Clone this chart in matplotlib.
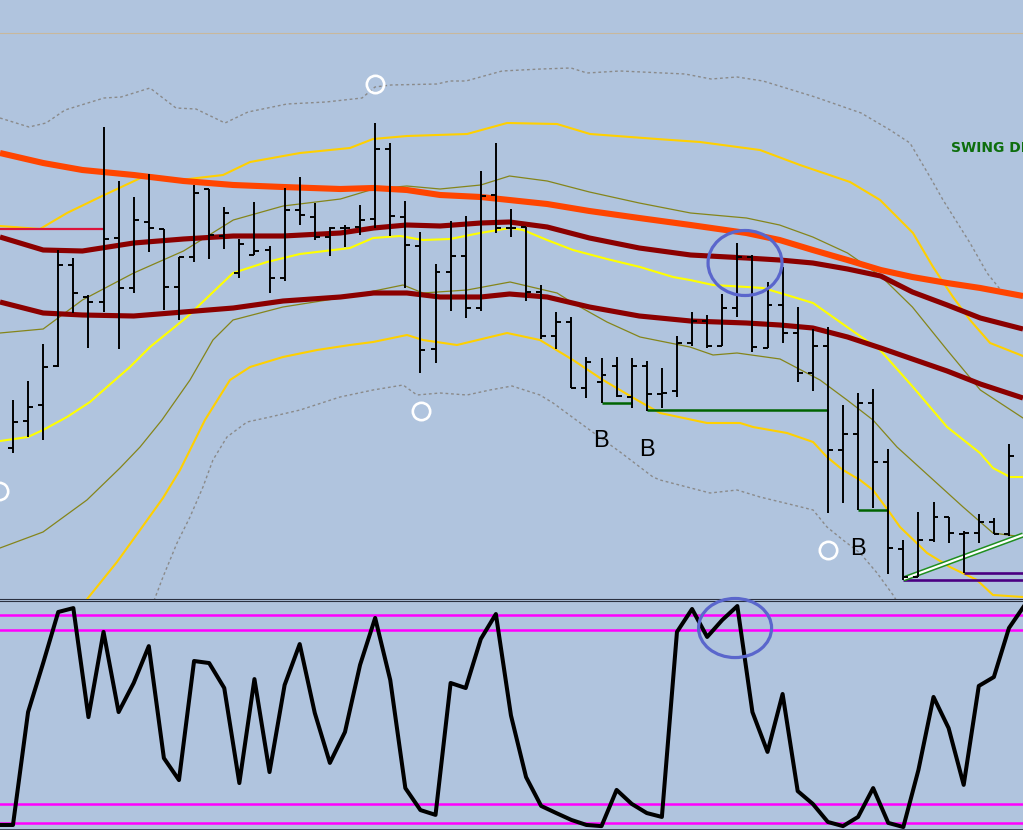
import numpy as np
import matplotlib
matplotlib.use("Agg")
import matplotlib.pyplot as plt
from matplotlib.patches import Ellipse

# ---------------- data (price units, arbitrary scale) ----------------
bar_high = [200, 219, 256, 350, 342, 305, 473, 419, 403, 426, 371, 343, 415, 411, 393, 361, 398,
            354, 412, 423, 397, 373, 375, 395, 477, 457, 399, 368, 336, 379, 384, 429, 457, 391,
            373, 315, 288, 283, 243, 242, 243, 242, 239, 232, 264, 288, 285, 306, 357, 345, 318,
            333, 293, 271, 273, 195, 207, 211, 151, 60, 88, 98, 83, 69, 86, 82, 156]
bar_low = [147, 163, 160, 233, 287, 252, 288, 251, 307, 348, 290, 280, 338, 341, 351, 322, 345,
           307, 319, 375, 360, 344, 353, 365, 372, 364, 312, 227, 237, 289, 282, 289, 367, 363,
           299, 261, 251, 212, 202, 197, 203, 192, 189, 192, 203, 254, 252, 254, 283, 248, 252,
           257, 218, 209, 87, 97, 90, 92, 26, 20, 23, 58, 57, 27, 57, 66, 64]
bar_open = [152, 179, 195, 234, 335, 303, 298, 362, 312, 378, 371, 313, 343, 411, 364, 327, 345,
            350, 322, 390, 383, 363, 372, 373, 381, 451, 383, 354, 251, 328, 344, 292, 405, 372,
            373, 308, 264, 278, 212, 218, 234, 203, 234, 206, 209, 257, 279, 254, 292, 343, 252,
            295, 267, 227, 254, 150, 166, 197, 138, 51, 23, 60, 83, 66, 67, 78, 66]
bar_close = [178, 193, 233, 335, 307, 298, 361, 312, 380, 372, 313, 343, 407, 365, 387, 356, 349,
             322, 390, 385, 363, 372, 372, 380, 451, 384, 355, 250, 328, 344, 292, 404, 372, 372,
             308, 264, 278, 212, 238, 225, 204, 234, 206, 207, 257, 279, 254, 292, 343, 253, 295,
             267, 227, 254, 150, 166, 197, 138, 52, 23, 60, 83, 67, 67, 78, 66, 144]

# shared sampling positions (bar index) for the smoothed averages
grid_x = [-0.86, 2.0, 4.6, 8.0, 11.3, 14.6, 17.9, 21.7, 23.9, 26.1, 28.3, 31.0, 32.9, 35.4,
          38.2, 41.5, 44.9, 48.6, 50.8, 53.0, 55.3, 57.5, 59.6, 61.9, 64.1, 66.93]
ma_orange = [447, 437, 430, 425, 419, 415, 413, 411, 412, 410, 405, 403, 400, 396, 389, 382,
             375, 367, 360, 350, 340, 330, 323, 317, 312, 304]
ma_upper = [363, 350, 349, 357, 361, 364, 364, 367, 372, 375, 374, 377, 378, 373, 362, 352,
            345, 342, 340, 337, 331, 324, 308, 295, 282, 271]
ma_lower = [298, 287, 285, 284, 288, 292, 299, 303, 307, 307, 303, 303, 306, 303, 293, 284,
            279, 277, 275, 272, 263, 252, 241, 229, 216, 202]
olive_upper = [267, 271, 300, 327, 349, 380, 394, 401, 411, 414, 411, 415, 424, 419, 408, 397,
               387, 382, 375, 363, 347, 324, 293, 250, 210, 182]

olive_lower_x = [-0.86, 1.99, 4.9, 7.09, 8.42, 9.87, 11.73, 13.25, 14.58, 17.89, 21.67, 25.85,
                 27.17, 30.09, 32.94, 36.05, 37.11, 39.36, 41.55, 44.86, 46.39, 47.98, 50.83,
                 53.48, 55.27, 56.99, 58.58, 60.77, 62.96, 64.94, 66.93]
olive_lower = [52, 68, 100, 132, 153, 180, 220, 260, 280, 293, 302, 315, 307, 310, 318, 307, 297,
               278, 263, 253, 245, 247, 241, 220, 200, 180, 153, 123, 93, 67, 63]

gold_upper_x = [-0.86, 1.79, 3.58, 5.77, 8.88, 11.07, 13.92, 15.71, 19.02, 22.33, 23.86, 26.11,
                30.09, 32.74, 36.05, 38.24, 42.68, 45.53, 49.5, 52.15, 55.47, 57.46, 59.64,
                60.97, 62.29, 63.42, 64.75, 66.93]
gold_upper = [374, 371, 387, 403, 425, 420, 425, 438, 447, 452, 461, 464, 466, 477, 476, 466,
              461, 458, 450, 435, 418, 400, 367, 333, 303, 280, 257, 244]

gold_lower_x = [4.31, 4.97, 6.89, 8.42, 9.94, 11.07, 12.72, 14.38, 15.71, 17.89, 20.15, 22.33,
                23.86, 26.11, 27.17, 29.42, 32.74, 34.92, 37.11, 39.1, 41.35, 42.88, 45.99,
                48.18, 49.04, 51.29, 53.02, 53.94, 55.0, 56.13, 56.99, 58.12, 58.78, 60.57,
                62.09, 63.88, 64.94, 66.93]
gold_lower = [-10, 2, 38, 70, 102, 130, 180, 220, 233, 243, 250, 255, 258, 265, 260, 255, 267,
              260, 240, 220, 200, 187, 177, 177, 173, 167, 158, 143, 130, 120, 110, 87, 73, 47,
              33, 20, 5, 3]

yellow_x = [-0.86, 0.99, 1.99, 3.58, 5.1, 6.23, 7.75, 9.08, 11.53, 14.58, 16.83, 19.02, 22.33,
            23.86, 25.65, 27.17, 28.96, 30.95, 32.94, 33.8, 35.39, 37.11, 39.36, 41.55, 43.74,
            44.86, 46.39, 48.64, 49.7, 50.83, 53.02, 55.27, 57.46, 59.64, 61.9, 64.08, 64.94,
            66.07, 66.93]
yellow_band = [159, 163, 170, 183, 198, 213, 233, 253, 283, 327, 338, 346, 352, 362, 364, 360,
               361, 367, 372, 370, 360, 350, 341, 333, 323, 320, 315, 313, 312, 307, 297, 273,
               250, 213, 173, 147, 132, 123, 123]

dot_upper_x = [-0.86, 1.06, 2.19, 3.45, 6.03, 7.16, 9.08, 10.8, 12.13, 14.05, 15.57, 18.16,
               20.74, 23.13, 23.99, 25.05, 28.1, 28.96, 30.02, 32.41, 34.99, 36.98, 38.04,
               40.23, 44.53, 46.26, 47.98, 49.7, 53.15, 56.2, 58.12, 59.44, 60.77, 61.63,
               63.42, 64.55, 65.61, 66.93]
dot_upper = [482, 473, 477, 490, 502, 503, 512, 492, 491, 477, 488, 496, 498, 502, 513, 515, 516,
             519, 519, 529, 531, 532, 527, 529, 526, 521, 523, 519, 503, 487, 470, 457, 423, 400,
             357, 327, 307, 302]

dot_lower_x = [9.21, 9.41, 9.94, 10.87, 11.73, 12.59, 13.25, 14.18, 15.51, 17.03, 19.02, 21.67,
               23.86, 25.85, 26.77, 28.3, 30.09, 31.61, 33.07, 34.92, 35.79, 38.04, 40.23,
               42.41, 42.88, 46.19, 47.98, 49.5, 51.69, 53.02, 53.94, 55.0, 56.13, 57.26, 58.32,
               58.52]
dot_lower = [-6, 2, 23, 57, 83, 113, 140, 163, 178, 183, 190, 203, 210, 215, 205, 207, 205, 210,
             214, 205, 197, 172, 148, 123, 120, 107, 110, 103, 95, 90, 73, 60, 47, 27, 5, 0]

# horizontal levels: (start index, end index, price)
red_level = (-0.86, 6.0, 371)
green_levels = [(39, 41, 197), (42, 54, 190), (56, 58, 90)]
purple_levels = [(59, 66.93, 20), (63, 66.93, 27)]
trend_x = [59, 66.93]
trend_y = [21, 65]
grid_level = 567

circle_x = [23.99, 27.04, 54.0, -0.93]
circle_y = [516, 189, 50, 109]
b_x = [38.97, 42.0, 56.0]
b_y = [159, 150, 51]

# stochastic oscillator (bar -1 .. 67)
stoch = [2.2, 2.2, 51.5, 72.9, 95.2, 96.9, 49.3, 86.5, 51.5, 64.2, 80.3, 31.4, 21.8, 73.8, 72.9,
         62.0, 20.5, 65.9, 25.3, 63.3, 81.2, 51.1, 29.3, 42.8, 72.1, 92.6, 65.5, 18.3, 8.7, 6.6,
         64.2, 62.0, 83.4, 94.3, 50.0, 23.1, 10.5, 7.4, 4.4, 2.2, 1.7, 17.5, 11.4, 7.4, 5.7,
         86.5, 96.5, 84.3, 91.7, 97.8, 51.5, 34.1, 59.4, 17.0, 11.4, 3.5, 1.7, 5.7, 18.3, 3.1,
         1.3, 26.2, 58.1, 44.5, 19.7, 62.9, 66.8, 88.2, 97.8]
stoch_levels = [93.9, 87.3, 11.4, 3.1]

BG = "#B0C4DE"

# ---------------- figure ----------------
fig = plt.figure(figsize=(10.23, 8.30), dpi=100, facecolor=BG)
ax = fig.add_axes([0, 1 - 599 / 830, 1, 599 / 830])
ax2 = fig.add_axes([0, 0, 1, 229 / 830])
XL = (-0.86, 66.93)
for a in (ax, ax2):
    a.set_facecolor(BG)
    a.set_xlim(*XL)
    a.set_xticks([])
    a.set_yticks([])
    for s in a.spines.values():
        s.set_visible(False)
ax.set_ylim(1, 600)
ax2.set_ylim(0, 100)
ax.spines["bottom"].set_visible(True)
ax.spines["bottom"].set_color("#2a3040")
ax.spines["bottom"].set_linewidth(0.8)
ax2.spines["top"].set_visible(True)
ax2.spines["top"].set_color("#2a3040")
ax2.spines["top"].set_linewidth(0.8)
ax2.spines["bottom"].set_visible(True)
ax2.spines["bottom"].set_color("#2a3040")
ax2.spines["bottom"].set_linewidth(1.2)

ax.axhline(grid_level, color="#c8b89c", lw=0.8, zorder=1)

# bands
ax.plot(dot_upper_x, dot_upper, color="#8a8a8a", lw=1.0, ls=(0, (2, 2)), zorder=2)
ax.plot(dot_lower_x, dot_lower, color="#8a8a8a", lw=1.0, ls=(0, (2, 2)), zorder=2)
ax.plot(grid_x, olive_upper, color="#85851a", lw=0.9, zorder=2)
ax.plot(olive_lower_x, olive_lower, color="#85851a", lw=0.9, zorder=2)
ax.plot(gold_upper_x, gold_upper, color="#FFD000", lw=1.5, zorder=3)
ax.plot(gold_lower_x, gold_lower, color="#FFD000", lw=1.5, zorder=3)
ax.plot(yellow_x, yellow_band, color="#FFFF00", lw=1.5, zorder=3)
ax.plot(grid_x, ma_lower, color="#8B0000", lw=3.7, zorder=4, solid_capstyle="butt")
ax.plot(grid_x, ma_upper, color="#8B0000", lw=3.7, zorder=4, solid_capstyle="butt")
ax.plot(grid_x, ma_orange, color="#FF4500", lw=4.4, zorder=4, solid_capstyle="butt")

# levels
ax.hlines(red_level[2], red_level[0], red_level[1], color="#DC143C", lw=1.6, zorder=4)
for x0, x1, yv in green_levels:
    ax.hlines(yv, x0, x1, color="#006400", lw=1.8, zorder=5)
for x0, x1, yv in purple_levels:
    ax.hlines(yv, x0, x1, color="#4B0082", lw=1.9, zorder=5)
ax.plot(trend_x, trend_y, color="#1f8f1f", lw=3.8, zorder=5, solid_capstyle="butt")
ax.plot(trend_x, trend_y, color="white", lw=1.6, zorder=5.1, solid_capstyle="butt")

# OHLC bars
idx = np.arange(len(bar_high))
tick = 0.33
ax.vlines(idx, bar_low, bar_high, color="black", lw=1.4, zorder=6)
ax.hlines(bar_open, idx - tick, idx, color="black", lw=1.4, zorder=6)
ax.hlines(bar_close, idx, idx + tick, color="black", lw=1.4, zorder=6)

# markers and labels
ax.plot(circle_x, circle_y, "o", ms=12.5, mfc="none", mec="white", mew=1.9, zorder=7,
        clip_on=False)
for xb, yb in zip(b_x, b_y):
    ax.text(xb, yb, "B", fontsize=17, color="black", ha="center", va="center",
            family="Liberation Sans", zorder=7)
ax.text(62.16, 452, "SWING DIRECTION", fontsize=10, color="#0d6e0d", fontweight="bold",
        family="DejaVu Sans", ha="left", va="center", zorder=7)

ax.add_patch(Ellipse((48.51, 337), 4.9, 65, fill=False, ec="#5a66cc", lw=2.3, zorder=8))

# oscillator
ax2.plot(np.arange(-1, len(stoch) - 1), stoch, color="black", lw=2.9, zorder=4)
for lv in stoch_levels:
    ax2.axhline(lv, color="#FF00FF", lw=1.8, zorder=3)
ax2.add_patch(Ellipse((47.85, 88.2), 4.84, 25.8, fill=False, ec="#5a66cc", lw=2.3, zorder=5,
                      clip_on=False))

fig.savefig("out.png", dpi=100, facecolor=BG)
